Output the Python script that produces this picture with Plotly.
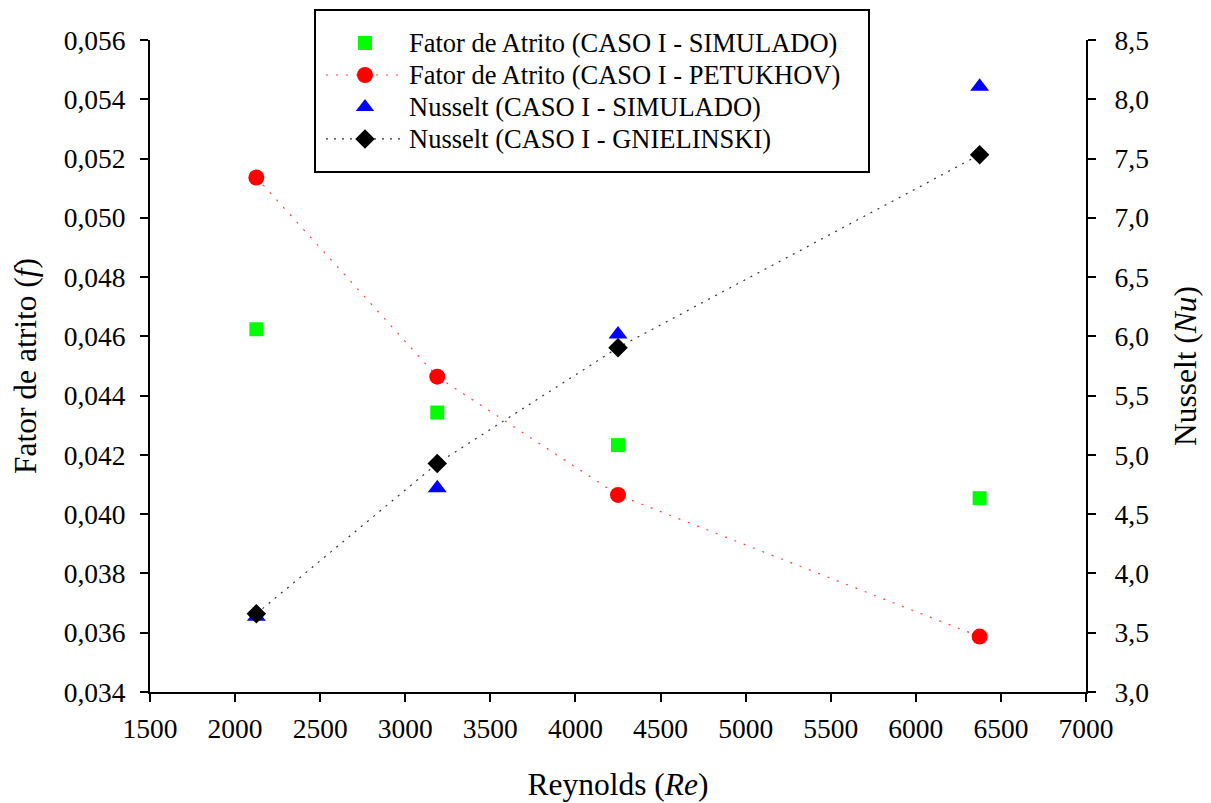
import plotly.graph_objects as go

# Reynolds numbers of the four simulated cases
reynolds = [2125, 3188, 4250, 6375]

# Friction factor
fator_simulado = [0.04624, 0.04343, 0.04233, 0.04054]
fator_petukhov = [0.05136, 0.04464, 0.04065, 0.03587]

# Nusselt number
nusselt_simulado = [3.635, 4.72, 6.017, 8.107]
nusselt_gnielinski = [3.66, 4.928, 5.905, 7.532]

FONT = "Liberation Serif, Times New Roman, serif"


def legend_label(text):
    # larger glyphs than the legend's base font, so rows stay compact
    return f'<span style="font-size:26.5px">{text}</span>'


fig = go.Figure()

fig.add_trace(go.Scatter(
    x=reynolds, y=fator_simulado, mode="markers",
    name=legend_label("Fator de Atrito (CASO I - SIMULADO)"),
    marker=dict(symbol="square", size=14, color="#00FF00"),
))
fig.add_trace(go.Scatter(
    x=reynolds, y=fator_petukhov, mode="lines+markers",
    name=legend_label("Fator de Atrito (CASO I - PETUKHOV)"),
    line=dict(color="rgba(255,0,0,0.75)", width=1.2, dash="2px,8px"),
    marker=dict(symbol="circle", size=16, color="#FF0000"),
))
fig.add_trace(go.Scatter(
    x=reynolds, y=nusselt_simulado, mode="markers", yaxis="y2",
    name=legend_label("Nusselt (CASO I - SIMULADO)"),
    marker=dict(symbol="triangle-up", size=16.5, color="#0000FF"),
))
fig.add_trace(go.Scatter(
    x=reynolds, y=nusselt_gnielinski, mode="lines+markers", yaxis="y2",
    name=legend_label("Nusselt (CASO I - GNIELINSKI)"),
    line=dict(color="rgba(0,0,0,0.8)", width=1.2, dash="2px,6px"),
    marker=dict(symbol="diamond", size=15, color="#000000"),
))

axis_common = dict(
    showgrid=False, zeroline=False, showline=True, automargin=False,
    linecolor="black", linewidth=2,
    ticks="outside", ticklen=8, tickwidth=2, tickcolor="black",
    tickfont=dict(family=FONT, size=27.5, color="black"),
)
title_font = dict(family=FONT, size=31.5, color="black")

fig.update_layout(
    width=1211, height=803,
    margin=dict(l=150, r=125, t=40, b=111, autoexpand=False),
    paper_bgcolor="white", plot_bgcolor="white",
    separators=",.",
    font=dict(family=FONT, color="black"),
    xaxis=dict(
        range=[1500, 7000], dtick=500, tick0=1500, tickformat="d",
        ticklabelstandoff=3,
        title=dict(text="Reynolds (<i>Re</i>)", font=title_font, standoff=30),
        **axis_common,
    ),
    yaxis=dict(
        range=[0.034, 0.056], dtick=0.002, tick0=0.034, tickformat=".3f",
        ticklabelstandoff=9,
        title=dict(text="Fator de atrito (<i>f</i>)", font=title_font, standoff=18),
        **axis_common,
    ),
    yaxis2=dict(
        overlaying="y", side="right",
        range=[3.0, 8.5], dtick=0.5, tick0=3.0, tickformat=".1f",
        ticklabelstandoff=13,
        title=dict(text="Nusselt (<i>Nu</i>)", font=title_font, standoff=26),
        **axis_common,
    ),
    showlegend=True,
    legend=dict(
        x=(321 - 150) / 936, y=(692 - 22) / 652, xanchor="left", yanchor="top",
        bgcolor="rgba(0,0,0,0)", borderwidth=0,
        font=dict(family=FONT, size=22.3, color="black"),
        itemwidth=78, tracegroupgap=0,
    ),
    shapes=[dict(
        type="rect", xref="paper", yref="paper",
        x0=(315 - 150) / 936, x1=(869 - 150) / 936,
        y0=(692 - 172) / 652, y1=(692 - 10) / 652,
        line=dict(color="black", width=2), fillcolor="white", layer="below",
    )],
)

fig.write_html("out.html")
